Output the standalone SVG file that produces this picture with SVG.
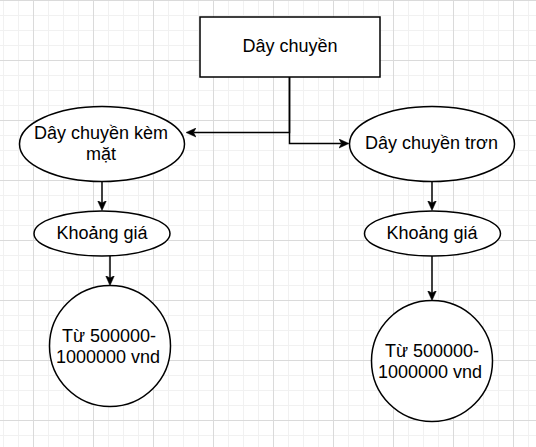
<svg xmlns="http://www.w3.org/2000/svg" width="536" height="447" viewBox="0 0 536 447">
<style>
.shape{fill:#ffffff;stroke:#000000;stroke-width:1.5}
.lbl{font-family:"Liberation Sans",Arial,sans-serif;font-size:18px;fill:#000000;text-anchor:middle}
.edge{fill:none;stroke:#000000;stroke-width:1.5}
</style>
<defs>
<pattern id="grid" patternUnits="userSpaceOnUse" x="33" y="0" width="60" height="60">
<rect width="60" height="60" fill="#ffffff"/>
<path d="M15.5 0V60M30.5 0V60M45.5 0V60M0 15.5H60M0 30.5H60M0 45.5H60" stroke="#f1f1f1" stroke-width="1"/>
<path d="M0.5 0V60M0 0.5H60" stroke="#dadada" stroke-width="1"/>
</pattern>
<marker id="arrow" markerUnits="userSpaceOnUse" markerWidth="10" markerHeight="10" viewBox="0 0 10 10" refX="2.5" refY="5" orient="auto">
<path d="M0 0.5L10 5L0 9.5L2.5 5Z" fill="#000000" stroke="#000000" stroke-width="0.5"/>
</marker>
</defs>
<rect width="536" height="447" fill="url(#grid)"/>
<g id="connectors">
<path class="edge" d="M289.5 77V143.5H341.5" marker-end="url(#arrow)"/>
<path class="edge" d="M289.5 77V132.5H193.5" marker-end="url(#arrow)"/>
<path class="edge" d="M102 181.5V203" marker-end="url(#arrow)"/>
<path class="edge" d="M432 181.5V203" marker-end="url(#arrow)"/>
<path class="edge" d="M110 256V278" marker-end="url(#arrow)"/>
<path class="edge" d="M432 256V293" marker-end="url(#arrow)"/>
</g>
<g id="node-day-chuyen">
<rect class="shape" x="200" y="17" width="180" height="60"/>
<text class="lbl" x="290" y="52">Dây chuyền</text>
</g>
<g id="node-kem-mat">
<ellipse class="shape" cx="102" cy="144" rx="82.5" ry="37.5"/>
<text class="lbl" x="101" y="138.5">Dây chuyền kèm</text>
<text class="lbl" x="101" y="159.5">mặt</text>
</g>
<g id="node-tron">
<ellipse class="shape" cx="432" cy="144" rx="82.5" ry="37.5"/>
<text class="lbl" x="431.5" y="148.5">Dây chuyền trơn</text>
</g>
<g id="node-gia-left">
<ellipse class="shape" cx="102" cy="233.5" rx="68" ry="22.5"/>
<text class="lbl" x="102" y="239">Khoảng giá</text>
</g>
<g id="node-gia-right">
<ellipse class="shape" cx="432.5" cy="233.5" rx="68" ry="22.5"/>
<text class="lbl" x="432" y="239">Khoảng giá</text>
</g>
<g id="node-range-left">
<circle class="shape" cx="110" cy="346" r="60.5"/>
<text class="lbl" x="109" y="341.5">Từ 500000-</text>
<text class="lbl" x="108" y="363">1000000 vnd</text>
</g>
<g id="node-range-right">
<circle class="shape" cx="432" cy="361" r="60.5"/>
<text class="lbl" x="432" y="357">Từ 500000-</text>
<text class="lbl" x="430" y="378">1000000 vnd</text>
</g>
</svg>
